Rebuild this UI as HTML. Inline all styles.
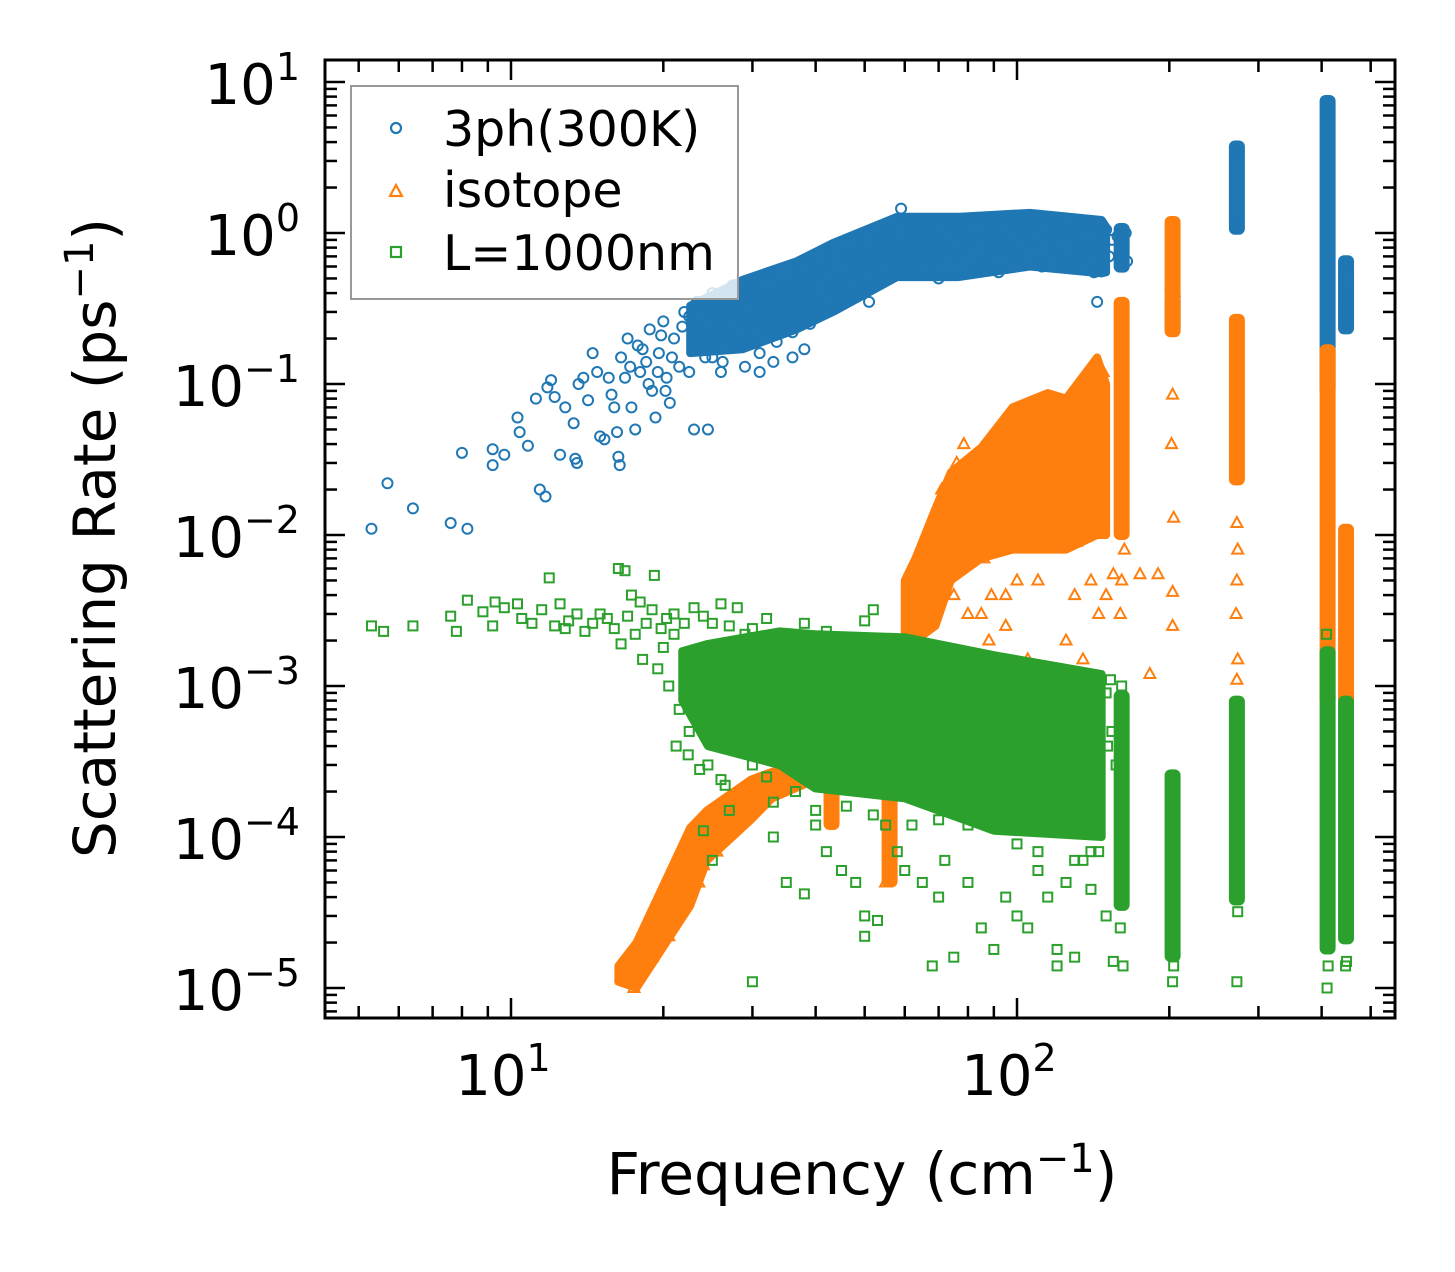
<!DOCTYPE html>
<html><head><meta charset="utf-8"><style>
html,body{margin:0;padding:0;background:#fff;}
svg text{font-family:"DejaVu Sans","Liberation Sans",sans-serif;fill:#000;}
</style></head><body>
<svg id="chart" width="1455" height="1267" viewBox="0 0 1455 1267" xmlns="http://www.w3.org/2000/svg">
<rect x="0" y="0" width="1455" height="1267" fill="#fff"/>
<g id="marks"></g>
<g id="ticks"></g>
<rect x="325" y="60" width="1070" height="958" fill="none" stroke="#000" stroke-width="3"/>
<g>
<rect x="351" y="86" width="387" height="213" fill="#fff" fill-opacity="0.8" stroke="#999" stroke-width="2"/>
<circle cx="396" cy="128" r="5" fill="none" stroke="#1f77b4" stroke-width="2.2"/>
<text x="443" y="146" font-size="49">3ph(300K)</text>
<polygon points="396,185 402,196 390,196" fill="none" stroke="#ff7f0e" stroke-width="2.2"/>
<text x="443" y="207" font-size="49">isotope</text>
<rect x="391" y="247" width="10" height="10" fill="none" stroke="#2ca02c" stroke-width="2.2"/>
<text x="443" y="270" font-size="49">L=1000nm</text>
</g>
<g id="labels"></g>
<text x="862" y="1194" font-size="58" text-anchor="middle">Frequency (cm<tspan font-size="40" dy="-22">−1</tspan><tspan dy="22">)</tspan></text>
<text transform="translate(115,538) rotate(-90)" font-size="58" text-anchor="middle">Scattering Rate (ps<tspan font-size="40" dy="-22">−1</tspan><tspan dy="22">)</tspan></text>
</svg>
<script>
const xTickExps=[1,2];
const yTickExps=[1,0,-1,-2,-3,-4,-5];
// dense cores: [freq, low rate, high rate]
const blueCore=[[22.6,0.16,0.33],[28.7,0.17,0.49],[36.7,0.23,0.65],[43.3,0.3,0.86],[57.9,0.51,1.28],[76.4,0.51,1.28],[106,0.6,1.36],[147,0.54,1.22],[150,0.55,1.1]];
const orangeCore=[[60,2e-3,5e-3],[63,2e-3,7e-3],[69,2.5e-3,1.5e-2],[74,5e-3,2.6e-2],[85,7e-3,3.8e-2],[98,8e-3,7e-2],[115,8e-3,8.7e-2],[125,8e-3,8e-2],[144,1e-2,0.15],[150,1e-2,0.1]];
const orangeLowCore=[[16.3,1.1e-5,1.4e-5],[17.7,1e-5,2e-5],[22.6,3.5e-5,1.15e-4],[24.4,7e-5,1.5e-4],[29.8,1.3e-4,2.4e-4],[32.8,1.8e-4,2.7e-4],[40,2.4e-4,3e-4]];
const greenCore=[[21.8,8e-4,1.7e-3],[24.5,4e-4,1.9e-3],[33.9,3e-4,2.3e-3],[39.9,2.1e-4,2.2e-3],[60.1,1.8e-4,2.1e-3],[90.1,1.1e-4,1.6e-3],[147,1e-4,1.2e-3]];
// solid columns: [freq, low, high]
const blueCols=[[161,0.59,1.08],[203,0.23,0.36],[272,1.05,3.8],[411,0.09,7.6],[447,0.23,0.66]];
const orangeCols=[[43,1.2e-4,6e-4],[56,5e-5,2e-3],[161,0.01,0.35],[203,0.22,1.2],[272,0.023,0.27],[411,8e-4,0.17],[447,8e-4,0.011]];
const greenCols=[[161,3.5e-5,8.7e-4],[203,1.6e-5,2.6e-4],[272,3.8e-5,8e-4],[411,1.8e-5,1.7e-3],[447,2.1e-5,8e-4]];

const blueLeft=[[5.3,0.011],[5.7,0.022],[6.4,0.015],[7.6,0.012],[8.2,0.011],[8.0,0.035],[9.2,0.037],[9.2,0.029],[9.7,0.034],[10.3,0.06],[10.4,0.048],[10.8,0.039],[11.2,0.08],[11.4,0.02],[11.7,0.018],[11.8,0.095],[12.0,0.106],[12.2,0.082],[12.5,0.034],[12.8,0.07],[13.3,0.055],[13.4,0.032],[13.5,0.03],[13.6,0.1],[13.9,0.11],[14.2,0.078],[14.5,0.16],[14.8,0.12],[15,0.045],[15.3,0.043],[15.6,0.11],[15.8,0.085],[16,0.07],[16.2,0.048],[16.3,0.033],[16.4,0.029],[16.5,0.15],[16.8,0.11],[17,0.2],[17.3,0.07],[17.6,0.05],[17.8,0.18],[18,0.12],[18.5,0.14],[18.8,0.23],[19,0.09],[19.3,0.06],[19.6,0.16],[20,0.26],[20.3,0.11],[20.6,0.075],[21,0.2],[21.5,0.13],[22,0.3],[22.5,0.12],[23,0.05],[24,0.2],[24.5,0.05],[25,0.15],[17.2,0.13],[18.2,0.17],[19.8,0.21],[20.8,0.15],[21.8,0.24],[19.5,0.12],[18.7,0.1],[20.2,0.09]];
const blueBand=[[22.5,0.28],[23,0.18],[23.3,0.35],[23.8,0.22],[24.2,0.15],[24.6,0.3],[25,0.4],[25.4,0.2],[25.8,0.26],[26.2,0.14],[26.6,0.33],[27,0.22],[27.4,0.45],[27.8,0.18],[28.2,0.3],[28.6,0.25],[29,0.38],[29.5,0.2],[30,0.42],[30.5,0.28],[31,0.16],[31.5,0.35],[32,0.24],[32.5,0.4],[33,0.3],[33.5,0.19],[34,0.36],[34.5,0.27],[35,0.45],[35.5,0.3],[36,0.22],[36.5,0.38],[37,0.5],[37.5,0.28],[38,0.34],[38.5,0.42],[39,0.25],[39.5,0.55],[40,0.36],[41,0.3],[42,0.6],[43,0.42],[44,0.32],[45,0.5],[46,0.7],[47,0.4],[48,0.55],[49,0.75],[50,0.45],[51,0.35],[52,0.6],[53,0.85],[54,0.5],[55,0.7],[56,1.0],[57,0.6],[58,0.8],[59,1.45],[60,0.7],[61,1.1],[62,0.85],[63,0.6],[64,1.2],[65,0.9],[66,0.75],[67,1.0],[68,0.65],[69,0.9],[70,0.5],[72,0.8],[74,1.1],[76,0.7],[78,1.0],[80,0.85],[82,1.25],[84,0.6],[86,0.95],[88,0.75],[90,1.1],[92,0.55],[94,0.9],[96,0.8],[98,1.15],[100,0.7],[103,1.0],[106,0.85],[109,1.2],[112,0.6],[115,0.95],[118,0.75],[121,1.1],[124,0.65],[127,1.0],[130,0.9],[133,0.7],[136,1.15],[139,0.8],[142,0.55],[144,0.35],[146,0.85],[148,0.6],[150,1.05],[152,0.7],[154,0.9],[26,0.12],[29,0.13],[33,0.14],[38,0.17],[31,0.12],[36,0.15]];
const blueStacks=[[158,0.95],[162,0.75],[165,0.65],[160,0.9],[164,1.0],[201,0.42],[205,0.38],[203,0.27],[270,1.1],[273,3.3],[272,3.5],[274,1.2],[409,0.1],[413,0.12],[410,7],[412,6],[445,0.25],[450,0.4],[448,0.6],[443,0.3]];
const orangeLow=[[16.5,1.2e-5],[17,1.1e-5],[17.5,1.0e-5],[18.3,1.5e-5],[18.8,1.8e-5],[19.2,2.0e-5],[19.6,2.3e-5],[20,2.6e-5],[20.5,3.0e-5],[21,3.5e-5],[21.5,4e-5],[22,4.8e-5],[22.5,5.5e-5],[23,6.2e-5],[23.5,7e-5],[24,8e-5],[24.5,9e-5],[25,1.0e-4],[26,1.2e-4],[27,1.4e-4],[28,1.7e-4],[29,1.9e-4],[30,2.0e-4],[32,2.3e-4],[34,2.7e-4],[36,3.2e-4],[38,3.3e-4],[40,3.5e-4],[42,4e-4],[45,4.2e-4],[47,3.8e-4],[50,4.5e-4],[55,5e-5],[19,1.6e-5],[21,2.9e-5],[22,4e-5],[24,6.5e-5],[26,1.0e-4],[20.5,2.2e-5],[23.5,5e-5],[25.5,8e-5]];
const orangeMid=[[60,2e-3],[62,4e-3],[65,6e-3],[68,1e-2],[70,1.2e-2],[71,2e-2],[74,2.5e-2],[76,3e-2],[78,2e-2],[81,2.5e-2],[83,3e-2],[86,7e-3],[89,4e-3],[91,3e-2],[93,4e-2],[96,3.5e-2],[98,5e-2],[101,4e-2],[105,5.5e-2],[109,1.5e-2],[111,4e-2],[115,6e-2],[119,1.2e-2],[121,4.5e-2],[125,7e-2],[131,9e-3],[133,5e-2],[135,8e-2],[139,1.1e-1],[143,6e-2],[145,1.2e-1],[148,1.2e-1],[72.5,2e-2],[78.5,4e-2],[84.5,3.5e-2],[96.5,4.5e-2],[108,4.5e-2],[120,6e-2],[142,9e-2],
[85,3e-3],[88,2e-3],[95,4e-3],[100,5e-3],[115,1.2e-3],[118,8e-4],[125,2e-3],[135,1.5e-3],[140,5e-3],[145,3e-3],[150,4e-3],[60,8e-4],[65,1e-3],[80,1e-3],[90,7e-4],[105,1.5e-3],[70,9e-4],[175,5.5e-3],[190,5.5e-3],[183,1.2e-3],[110,5e-3],[130,4e-3],[95,2.5e-3],[75,4e-3],[80,3e-3]];
const orangeStacks=[[155,5.5e-3],[161,5e-3],[163,8e-3],[160,3e-3],[203,2.5e-3],[203,4.2e-3],[204,1.3e-2],[202,0.04],[203,0.085],[272,1.1e-3],[273,1.5e-3],[271,3e-3],[272,5e-3],[273,8e-3],[272,0.012],[411,5e-4],[410,3e-4],[447,4e-4],[448,6e-4]];
const greenLeft=[[5.3,2.5e-3],[5.6,2.3e-3],[6.4,2.5e-3],[7.6,2.9e-3],[7.8,2.3e-3],[8.2,3.7e-3],[8.8,3.1e-3],[9.2,2.5e-3],[9.3,3.6e-3],[9.7,3.3e-3],[10.3,3.5e-3],[10.5,2.8e-3],[11,2.6e-3],[11.5,3.2e-3],[11.9,5.2e-3],[12.2,2.5e-3],[12.5,3.5e-3],[13.5,3e-3],[14,2.3e-3],[15,3e-3],[16.3,6e-3],[16.8,5.8e-3],[17.3,4e-3],[18,3.6e-3],[19.2,5.4e-3],[19.5,1.3e-3],[14.5,2.6e-3],[15.5,2.8e-3],[16,2.4e-3],[17,2.9e-3],[18.5,2.6e-3],[19,3.2e-3],[12.8,2.4e-3],[13,2.7e-3],[16.5,1.9e-3],[18.2,1.5e-3],[17.6,2.2e-3],[19.8,2.4e-3],[20.3,2.8e-3],[21,3e-3],[22,2.6e-3],[23,3.3e-3],[24,2.9e-3],[25,2.6e-3],[26,3.5e-3],[27,2.5e-3],[28,3.3e-3],[30,2.4e-3],[32,2.8e-3],[35,2.2e-3],[38,2.6e-3],[42,2.3e-3],[46,2.1e-3],[50,2.7e-3],[52,3.2e-3]];
const greenBand=[[20,1.8e-3],[20.5,1e-3],[21,2.2e-3],[21.5,7e-4],[22,1.4e-3],[22.5,5e-4],[23,1.2e-3],[24,9e-4],[24.5,3e-4],[25,1.5e-3],[25.5,6e-4],[26,2.4e-4],[27,1.9e-3],[28,4e-4],[29,2.2e-3],[30,3e-4],[31.5,5e-4],[32,2.5e-4],[35,3e-4],[36.5,2e-4],[38,3.5e-4],[41,3e-4],[44,2.2e-4],[47,4e-4],[50,3e-4],[55,2.5e-4],[59,3.5e-4],[64,4e-4],[68,2.5e-4],[76,3e-4],[84,2.5e-4],[90,4e-4],[96,3e-4],[106,2.8e-4],[115,3.5e-4],[124,2e-4],[130,4.5e-4],[136,2.5e-4],[145,3e-4],[151,4e-4],[154,5e-4],[157,3e-4],[150,9e-4],[153,1.1e-3],[21.2,4e-4],[22.4,3.5e-4],[23.6,2.8e-4],[26.5,2.2e-4],[33,1.7e-4],[40,1.5e-4],[46,1.6e-4],[52,1.4e-4],[70,1.3e-4],[80,1.2e-4],[100,9e-5],[110,8e-5],[130,7e-5],[140,8e-5]];
const greenOut=[[24,1.1e-4],[25,7e-5],[27,1.5e-4],[30,1.1e-5],[33,1e-4],[35,5e-5],[38,4.2e-5],[40,1.2e-4],[42,8e-5],[45,6e-5],[48,5e-5],[50,3e-5],[50,2.2e-5],[53,2.8e-5],[55,1.2e-4],[58,8e-5],[60,6e-5],[62,1.2e-4],[65,5e-5],[68,1.4e-5],[70,4e-5],[72,7e-5],[75,1.6e-5],[80,5e-5],[85,2.5e-5],[90,1.8e-5],[95,4e-5],[100,3e-5],[105,2.5e-5],[110,6e-5],[115,4e-5],[120,1.8e-5],[120,1.4e-5],[125,5e-5],[130,1.6e-5],[135,7e-5],[140,4.5e-5],[145,8e-5],[150,3e-5],[155,1.5e-5]];
const greenStacks=[[160,2.5e-5],[162,1.4e-5],[161,1e-3],[203,1.1e-5],[204,1.4e-5],[272,1.1e-5],[273,3.2e-5],[272,6.5e-4],[410,1e-5],[412,1.4e-5],[409,2.2e-3],[446,1.4e-5],[448,1.5e-5]];

const X0=511, XD=506, Y0=233, YD=151;
const xScale=f=>X0+(Math.log10(f)-1)*XD;
const yScale=r=>Y0-Math.log10(r)*YD;
const NS='http://www.w3.org/2000/svg';
const marks=document.getElementById('marks');
const C={blue:'#1f77b4',orange:'#ff7f0e',green:'#2ca02c'};
function mk(tag){return document.createElementNS(NS,tag);}
function drawCore(arr,color,name){const up=arr.map(d=>`${xScale(d[0])},${yScale(d[2])}`);const lo=arr.slice().reverse().map(d=>`${xScale(d[0])},${yScale(d[1])}`);const p=mk('polygon');p.setAttribute('points',up.concat(lo).join(' '));p.setAttribute('fill',color);p.setAttribute('stroke',color);p.setAttribute('stroke-width',8);p.setAttribute('stroke-linejoin','round');


marks.appendChild(p);}
function drawCol(d,color,name){const r=mk('rect');const y1=yScale(d[2]),y2=yScale(d[1]);r.setAttribute('x',xScale(d[0])-8);r.setAttribute('y',y1-5);r.setAttribute('width',16);r.setAttribute('height',y2-y1+10);r.setAttribute('rx',6);r.setAttribute('fill',color);


marks.appendChild(r);}
function drawCircle(p){const c=mk('circle');c.setAttribute('cx',xScale(p[0]));c.setAttribute('cy',yScale(p[1]));c.setAttribute('r',5);c.setAttribute('fill','none');c.setAttribute('stroke',C.blue);c.setAttribute('stroke-width',2);


marks.appendChild(c);}
function drawTri(p){const x=xScale(p[0]),y=yScale(p[1]);const t=mk('polygon');t.setAttribute('points',`${x},${y-6} ${x+5.5},${y+4} ${x-5.5},${y+4}`);t.setAttribute('fill','none');t.setAttribute('stroke',C.orange);t.setAttribute('stroke-width',2);


marks.appendChild(t);}
function drawSq(p){const x=xScale(p[0]),y=yScale(p[1]);const s=mk('rect');s.setAttribute('x',x-4.5);s.setAttribute('y',y-4.5);s.setAttribute('width',9);s.setAttribute('height',9);s.setAttribute('fill','none');s.setAttribute('stroke',C.green);s.setAttribute('stroke-width',2);


marks.appendChild(s);}
drawCore(blueCore,C.blue,'core-3ph');
blueCols.forEach(d=>drawCol(d,C.blue,'column-3ph'));
[blueLeft,blueBand,blueStacks].forEach(a=>a.forEach(drawCircle));
drawCore(orangeCore,C.orange,'core-isotope');
drawCore(orangeLowCore,C.orange,'core-isotope-low');
orangeCols.forEach(d=>drawCol(d,C.orange,'column-isotope'));
[orangeLow,orangeMid,orangeStacks].forEach(a=>a.forEach(drawTri));
drawCore(greenCore,C.green,'core-boundary');
greenCols.forEach(d=>drawCol(d,C.green,'column-boundary'));
[greenLeft,greenBand,greenOut,greenStacks].forEach(a=>a.forEach(drawSq));

const ticks=document.getElementById('ticks'),labels=document.getElementById('labels');
const L=325,R=1395,T=60,B=1018;
function line(x1,y1,x2,y2,name){const l=mk('line');l.setAttribute('x1',x1);l.setAttribute('y1',y1);l.setAttribute('x2',x2);l.setAttribute('y2',y2);l.setAttribute('stroke','#000');l.setAttribute('stroke-width',2.5);


ticks.appendChild(l);}
for(let e=0;e<=2;e++){for(let m=1;m<10;m++){const f=m*Math.pow(10,e);const x=xScale(f);if(x<L||x>R)continue;const len=m===1?20:12;line(x,B,x,B-len,'x-tick');line(x,T,x,T+len,'x-tick-top');}}
for(let e=-6;e<=1;e++){for(let m=1;m<10;m++){const r=m*Math.pow(10,e);const y=yScale(r);if(y<T||y>B)continue;const len=m===1?20:12;line(L,y,L+len,y,'y-tick');line(R,y,R-len,y,'y-tick-right');}}
xTickExps.forEach(e=>{const t=mk('text');t.setAttribute('x',xScale(Math.pow(10,e))-8);t.setAttribute('y',1095);t.setAttribute('font-size',56);t.setAttribute('text-anchor','middle');t.innerHTML=`10<tspan font-size="38" dy="-24">${e}</tspan>`;


labels.appendChild(t);});
yTickExps.forEach(e=>{const t=mk('text');t.setAttribute('x',300);t.setAttribute('y',yScale(Math.pow(10,e))+22);t.setAttribute('font-size',56);t.setAttribute('text-anchor','end');t.innerHTML=`10<tspan font-size="38" dy="-24">${e<0?'−'+(-e):e}</tspan>`;


labels.appendChild(t);});
</script>
</body></html>
